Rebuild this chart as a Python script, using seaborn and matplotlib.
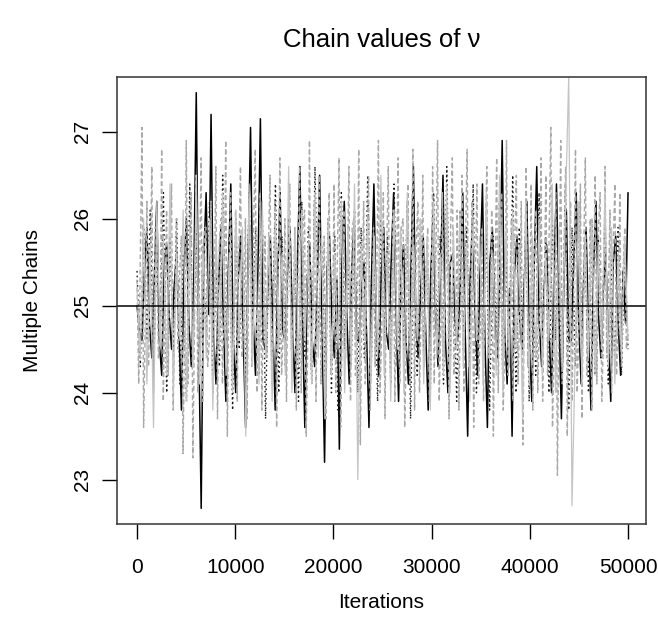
import numpy as np
import pandas as pd
import matplotlib
matplotlib.use("Agg")
import matplotlib.pyplot as plt
import seaborn as sns

# ---------------- data ----------------
n_iter = 50000

chain_black = [
    25.0, 24.7, 24.6, 25.4, 25.9, 24.8, 24.4, 25.3, 26.2, 24.6, 24.2, 25.5, 25.7, 24.9, 24.5, 25.2, 25.6, 24.7, 23.8, 25.4,
    26.0, 24.8, 24.3, 25.3, 27.45, 24.6, 22.67, 25.5, 26.3, 24.9, 27.2, 24.7, 24.1, 25.2, 25.9, 24.8, 23.9, 25.4, 26.4, 24.6,
    24.0, 25.3, 25.8, 24.7, 23.6, 25.5, 27.05, 24.9, 24.2, 25.4, 27.15, 24.6, 24.5, 25.2, 25.8, 24.8, 23.8, 25.3, 26.3, 24.7,
    24.6, 25.4, 25.9, 24.8, 24.0, 25.5, 26.6, 24.9, 23.6, 25.3, 25.7, 24.6, 24.3, 25.2, 26.5, 24.7, 23.2, 25.4, 25.8, 24.8,
    24.4, 25.3, 23.35, 25.5, 26.2, 24.9, 24.1, 25.4, 26.0, 24.6, 24.6, 25.2, 25.5, 24.7, 23.6, 25.3, 26.4, 24.8, 24.2, 25.4,
    25.9, 24.7, 24.5, 25.5, 26.3, 24.9, 23.9, 25.3, 25.7, 24.6, 24.1, 25.4, 26.6, 24.8, 24.4, 25.2, 25.8, 24.7, 23.8, 25.3,
    26.1, 24.9, 24.3, 25.4, 26.5, 24.6, 24.0, 25.5, 25.6, 24.8, 24.6, 25.2, 26.3, 24.7, 23.5, 25.3, 26.0, 24.9, 24.2, 25.4,
    26.4, 24.6, 23.6, 25.5, 25.9, 24.8, 24.4, 25.3, 26.9, 24.7, 24.1, 25.2, 23.5, 25.4, 25.8, 24.9, 24.5, 25.3, 26.2, 24.6,
    23.9, 25.5, 26.6, 24.8, 24.3, 25.2, 25.7, 24.7, 24.0, 25.4, 26.4, 24.9, 23.7, 25.3, 26.1, 24.6, 24.6, 25.5, 26.3, 24.8,
    24.1, 25.3, 25.9, 24.7, 23.8, 25.4, 26.2, 24.9, 24.4, 25.2, 25.6, 24.6, 23.9, 25.5, 25.8, 24.8, 24.2, 25.4, 24.8, 26.3,
]

chain_dotted = [
    25.4, 24.3, 25.9, 24.6, 26.1, 24.2, 25.7, 24.5, 26.3, 24.0,
    25.8, 24.4, 26.0, 24.1, 25.6, 23.9, 26.4, 24.5, 25.9, 24.2,
    25.7, 24.6, 26.2, 24.0, 25.5, 24.3, 26.5, 24.4, 25.8, 23.8,
    26.0, 24.5, 25.6, 24.1, 26.3, 24.6, 25.9, 24.2, 26.1, 23.7,
    25.7, 24.4, 26.4, 24.0, 25.8, 24.3, 26.0, 24.5, 25.6, 23.9,
    26.2, 24.4, 25.9, 24.1, 26.6, 24.6, 25.7, 24.2, 26.0, 24.0,
    25.8, 23.8, 26.3, 24.5, 25.6, 24.3, 26.1, 24.0, 25.9, 24.4,
    26.5, 24.2, 25.7, 23.9, 26.0, 24.6, 25.8, 24.1, 26.4, 24.3,
    25.6, 24.5, 26.2, 23.7, 25.9, 24.2, 26.0, 24.4, 25.7, 24.0,
    26.3, 24.6, 25.8, 24.1, 26.6, 24.3, 25.5, 23.9, 26.1, 24.5,
    25.9, 24.2, 26.4, 24.0, 25.7, 24.4, 26.0, 23.8, 25.8, 24.6,
    26.2, 24.1, 25.6, 24.3, 26.5, 24.0, 25.9, 24.5, 26.1, 23.9,
    25.7, 24.2, 26.3, 24.4, 25.8, 24.0, 26.0, 24.6, 25.6, 24.1,
    26.4, 23.8, 25.9, 24.3, 26.2, 24.5, 25.7, 24.0, 26.0, 24.2,
    25.8, 24.4, 26.1, 24.1, 25.6, 24.3, 25.9, 24.2, 25.7, 24.5,
]

chain_dashed = [
    25.3, 24.1, 25.6, 27.05, 23.6, 24.8, 26.2, 24.3, 25.3, 26.6, 24.0, 25.9, 25.9, 24.4, 24.6,
    26.8, 23.9, 25.1, 26.1, 24.2, 25.7, 26.4, 23.8, 24.9, 26.0, 24.5, 25.4, 25.8, 23.3, 24.7,
    26.9, 24.1, 25.6, 26.3, 23.25, 24.8, 26.5, 24.0, 25.3, 26.7, 23.9, 25.9, 25.9, 24.3, 24.6,
    26.2, 24.6, 25.1, 26.6, 23.7, 25.7, 26.0, 24.1, 24.9, 26.9, 23.5, 25.4, 26.3, 24.2, 24.7,
    26.1, 23.9, 25.6, 26.6, 24.4, 24.8, 26.0, 23.7, 25.3, 25.9, 24.3, 25.9, 26.8, 24.0, 24.6,
    26.3, 23.8, 25.1, 25.8, 24.4, 25.7, 26.5, 24.1, 24.9, 26.2, 23.6, 25.4, 26.7, 24.2, 24.7,
    26.0, 23.9, 25.6, 26.4, 24.5, 24.8, 25.9, 23.8, 25.3, 26.6, 24.0, 25.9, 26.1, 23.5, 24.6,
    26.9, 24.3, 25.1, 26.2, 23.9, 25.7, 26.5, 24.1, 24.9, 25.8, 23.7, 25.4, 26.3, 24.2, 24.7,
    26.4, 24.0, 25.6, 26.7, 23.6, 24.8, 26.1, 24.4, 25.3, 26.6, 23.9, 25.9, 26.0, 24.2, 24.6,
    26.8, 23.4, 25.1, 26.2, 24.1, 25.7, 26.5, 23.8, 24.9, 25.9, 24.3, 25.4, 26.9, 24.0, 24.7,
    26.3, 23.7, 25.6, 26.6, 24.4, 24.8, 26.1, 23.9, 25.3, 26.7, 24.1, 25.9, 26.0, 23.6, 24.6,
    26.4, 24.2, 25.1, 26.8, 23.8, 25.7, 26.2, 24.0, 24.9, 26.5, 24.3, 25.4, 25.9, 23.9, 24.7,
    26.6, 24.1, 25.6, 26.9, 23.9, 24.8, 26.3, 24.4, 25.3, 26.0, 23.7, 25.9, 26.7, 24.2, 24.6,
    26.1, 23.8, 25.1, 26.5, 24.0, 25.7, 26.8, 24.3, 24.9, 26.2, 23.6, 25.4, 26.4, 24.1, 24.7,
    25.9, 23.9, 25.6, 26.6, 24.4, 24.8, 26.1, 23.5, 25.3, 26.7, 24.0, 25.9, 26.3, 23.8, 24.6,
    26.9, 24.2, 25.1, 26.0, 23.9, 25.7, 26.5, 24.1, 24.9, 26.2, 23.4, 25.4, 26.6, 24.3, 24.7,
    26.4, 23.8, 25.6, 26.1, 24.0, 24.8, 26.7, 23.9, 25.3, 26.5, 24.2, 25.9, 27.05, 23.6, 24.6,
    26.3, 23.05, 25.1, 26.9, 24.1, 25.7, 26.6, 23.5, 24.9, 26.2, 23.9, 25.4, 26.8, 24.0, 24.7,
    26.4, 23.7, 25.6, 26.7, 24.2, 24.8, 26.0, 23.8, 25.3, 26.5, 24.1, 25.9, 26.3, 23.9, 24.6,
    26.6, 24.4, 25.1, 26.1, 24.0, 25.7, 26.4, 24.2, 24.9, 26.3, 24.3, 25.4, 25.9, 24.5, 24.7,
]

chain_light = [
    25.2, 24.4, 26.0, 24.1, 25.7, 23.6, 26.2, 24.5, 25.8, 24.2,
    26.4, 24.0, 25.6, 24.6, 26.1, 23.9, 25.9, 24.3, 26.5, 24.1,
    25.7, 24.4, 26.0, 23.8, 25.8, 24.5, 26.3, 24.2, 25.6, 24.0,
    26.1, 24.6, 25.9, 23.5, 26.4, 24.3, 25.7, 24.1, 26.2, 24.4,
    25.8, 23.9, 26.0, 24.5, 25.6, 24.2, 26.6, 24.0, 25.9, 24.3,
    26.1, 24.6, 25.7, 24.1, 26.3, 24.4, 25.8, 23.7, 26.0, 24.2,
    25.6, 24.5, 26.2, 24.0, 25.9, 24.3, 26.4, 23.0, 25.7, 24.6,
    26.0, 24.1, 25.8, 24.4, 26.5, 24.2, 25.6, 23.9, 26.1, 24.5,
    25.9, 24.0, 26.3, 24.3, 25.7, 24.6, 26.0, 24.1, 25.8, 23.8,
    26.2, 24.4, 25.6, 24.2, 26.4, 24.0, 25.9, 24.5, 26.1, 24.3,
    25.7, 23.9, 26.0, 24.6, 25.8, 24.1, 26.3, 24.4, 25.6, 24.2,
    26.5, 24.0, 25.9, 24.3, 26.1, 24.5, 25.7, 23.7, 26.2, 24.1,
    25.8, 24.4, 26.0, 24.2, 25.6, 24.6, 26.4, 24.0, 25.9, 24.3,
    26.1, 27.64, 22.7, 24.5, 26.2, 24.1, 25.8, 24.4, 26.0, 24.2,
    25.7, 24.5, 26.3, 24.3, 25.9, 24.1, 25.6, 24.4, 25.8, 24.6,
]

true_value = 25
x_ticks = [0, 10000, 20000, 30000, 40000, 50000]
y_ticks = [23, 24, 25, 26, 27]

chains = [
    ("chain1", chain_black, "#000000", "-", 1.1),
    ("chain2", chain_dotted, "#1a1a1a", (0, (1.2, 2.2)), 1.0),
    ("chain3", chain_dashed, "#a8a8a8", (0, (3.5, 2.0)), 1.0),
    ("chain4", chain_light, "#c4c4c4", "-", 0.9),
]

# ---------------- plotting ----------------
sns.set_theme(style="ticks")
plt.rcParams["font.family"] = ["Liberation Sans", "DejaVu Sans"]

fig = plt.figure(figsize=(6.58, 6.30), dpi=100)
ax = fig.add_axes([117 / 658, 1 - 524 / 630, (646 - 117) / 658, (524 - 77) / 630])

for name, vals, col, ls, lw in chains:
    df = pd.DataFrame({
        "iteration": np.linspace(1, n_iter, len(vals)),
        "value": vals,
    })
    sns.lineplot(data=df, x="iteration", y="value", ax=ax, color=col,
                 linestyle=ls, linewidth=lw, estimator=None, sort=False,
                 legend=False)

ax.axhline(true_value, color="black", linewidth=1.1)

ax.set_xlim(-2040, 51830)
ax.set_ylim(22.49, 27.63)
ax.set_xticks(x_ticks)
ax.set_xticklabels([str(t) for t in x_ticks])
ax.set_yticks(y_ticks)
ax.set_yticklabels([str(t) for t in y_ticks], rotation=90, va="center")
ax.tick_params(axis="both", length=10.8, width=1.0, color="black",
               labelsize=15, labelcolor="black", direction="out")
ax.tick_params(axis="x", pad=14)
ax.tick_params(axis="y", pad=7)
for s in ax.spines.values():
    s.set_visible(True)
    s.set_color("#333333")
    s.set_linewidth(1.1)
ax.set_xlabel("")
ax.set_ylabel("")
ax.grid(False)

fig.text((117 + 646) / 2 / 658, 1 - 40 / 630, "Chain values of ν",
         ha="center", va="center", fontsize=18.5, color="black")
fig.text((117 + 646) / 2 / 658, 1 - 603 / 630, "Iterations",
         ha="center", va="center", fontsize=15, color="black")
fig.text(32 / 658, 1 - 300 / 630, "Multiple Chains", rotation=90,
         ha="center", va="center", fontsize=15, color="black")

fig.savefig("out.png", dpi=100, facecolor="white")
